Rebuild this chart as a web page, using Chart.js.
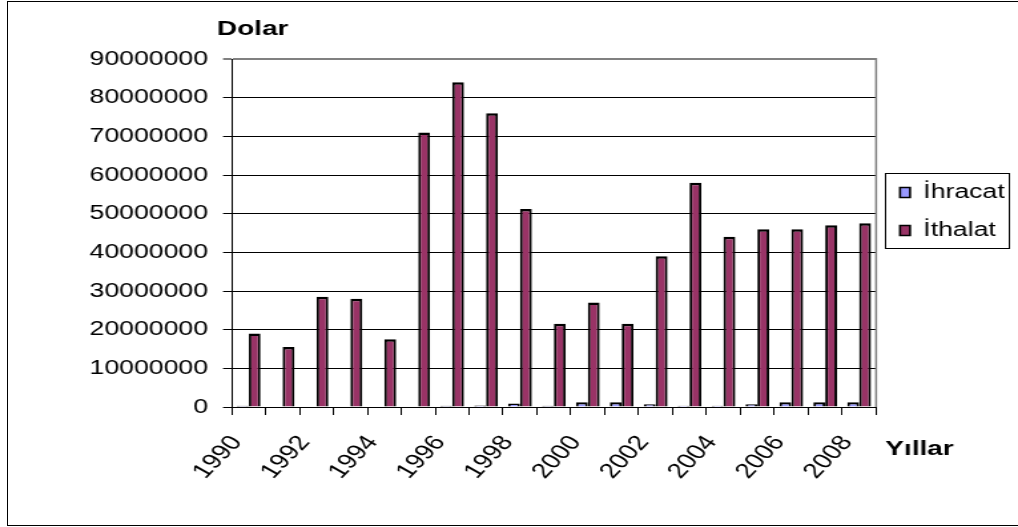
<!DOCTYPE html>
<html>
<head>
<meta charset="utf-8">
<script src="https://cdn.jsdelivr.net/npm/chart.js@4.4.1/dist/chart.umd.min.js"></script>
<style>
  html, body { margin: 0; padding: 0; background: #fff; overflow: hidden; width: 1018px; height: 527px; }
  #frame { position: absolute; left: 7px; top: 1px; width: 1100px; height: 523px; border: 1px solid #000; }
  /* the chart is laid out on a narrower canvas and widened, which gives the wide lettering */
  #plot { position: absolute; left: 0; top: 0; width: 765px; height: 527px; transform: scaleX(1.3307); transform-origin: 0 0; }
</style>
</head>
<body>
<div id="frame"></div>
<canvas id="plot" width="765" height="527"></canvas>
<script>
// Yearly foreign trade, USD
const years = ['1990','1991','1992','1993','1994','1995','1996','1997','1998','1999',
               '2000','2001','2002','2003','2004','2005','2006','2007','2008'];
const shownYears = ['1990','1992','1994','1996','1998','2000','2002','2004','2006','2008'];
const ihracat = [300000, 0, 0, 0, 0, 0, 300000, 400000, 900000, 300000,
                 1200000, 1200000, 700000, 350000, 350000, 700000, 1200000, 1200000, 1200000];
const ithalat = [19000000, 15500000, 28500000, 28000000, 17500000, 71000000, 84000000, 76000000, 51200000, 21500000,
                 27000000, 21500000, 39000000, 58000000, 44000000, 46000000, 46000000, 47000000, 47500000];
const yMin = 0, yMax = 90000000, yStep = 10000000;
const yCaption = 'Dolar';
const xCaption = 'Yıllar';

const FONT = "'Liberation Sans', Arial, sans-serif";
Chart.defaults.font.family = FONT;
Chart.defaults.font.size = 20;
Chart.defaults.color = '#000';

// plot frame on the right, axis captions and the box around the legend
const chartDecor = {
  id: 'chartDecor',
  afterDraw(chart) {
    const { ctx, chartArea: a } = chart;
    ctx.save();
    ctx.strokeStyle = '#808080';
    ctx.lineWidth = 1.5;
    ctx.beginPath();
    ctx.moveTo(a.right, a.top - 1);
    ctx.lineTo(a.right, a.bottom);
    ctx.stroke();

    ctx.fillStyle = '#000';
    ctx.font = "bold 21px " + FONT;
    ctx.textAlign = 'left';
    ctx.textBaseline = 'alphabetic';
    ctx.fillText(yCaption, a.left - 11, a.top - 24);
    ctx.fillText(xCaption, a.right + 7, a.bottom + 48);

    const boxes = chart.legend.legendHitBoxes;
    if (boxes && boxes.length) {
      const l = Math.min(...boxes.map(b => b.left)) - 11;
      const r = Math.max(...boxes.map(b => b.left + b.width)) + 3;
      const t = Math.min(...boxes.map(b => b.top)) - 9.5;
      const btm = Math.max(...boxes.map(b => b.top + b.height)) + 7.5;
      ctx.strokeStyle = '#000';
      ctx.lineWidth = 1;
      ctx.strokeRect(Math.round(l) + 0.5, Math.round(t) + 0.5, Math.round(r - l), Math.round(btm - t));
    }
    ctx.restore();
  }
};

const barEdge = { top: 2.5, left: 2, right: 2, bottom: 0 };

new Chart(document.getElementById('plot'), {
  type: 'bar',
  data: {
    labels: years,
    datasets: [
      { label: 'İhracat', data: ihracat, backgroundColor: '#9999FF', borderColor: '#000', borderWidth: barEdge },
      { label: 'İthalat', data: ithalat, backgroundColor: '#993366', borderColor: '#000', borderWidth: barEdge }
    ]
  },
  options: {
    responsive: false,
    animation: false,
    devicePixelRatio: 1,
    datasets: { bar: { categoryPercentage: 0.7, barPercentage: 1 } },
    layout: { padding: { top: 59, left: 0, right: 0, bottom: 0 } },
    plugins: {
      tooltip: { enabled: false },
      legend: {
        position: 'right',
        align: 'start',
        maxWidth: 108.2,
        // empty title used as a spacer that lowers the entries
        title: { display: true, text: ' ', font: { size: 10, lineHeight: 1 }, padding: { top: 95.5, bottom: 0 } },
        labels: { boxWidth: 7.5, boxHeight: 10, padding: 18, color: '#000', font: { size: 20 } }
      }
    },
    scales: {
      x: {
        afterFit(s) { s.height = 120; },
        grid: { drawOnChartArea: false, drawTicks: true, tickLength: 8, color: '#000', lineWidth: 1 },
        border: { display: true, color: '#000', width: 1 },
        ticks: {
          autoSkip: false, minRotation: 53, maxRotation: 53, padding: 16, labelOffset: -9,
          color: '#000', font: { size: 21 },
          callback(value, index) { const y = years[index]; return shownYears.includes(y) ? y : ''; }
        }
      },
      y: {
        min: yMin, max: yMax,
        afterFit(s) { s.width = 174.1; },
        grid: {
          drawTicks: true, tickLength: 6.5,
          color: c => (c.tick && c.tick.value === yMax) ? '#808080' : '#000',
          lineWidth: c => (c.tick && c.tick.value === yMax) ? 2 : 1
        },
        border: { display: true, color: '#000', width: 1 },
        ticks: { stepSize: yStep, padding: 11.3, color: '#000', font: { size: 20 },
                 callback: v => String(v) }
      }
    }
  },
  plugins: [chartDecor]
});
</script>
</body>
</html>
